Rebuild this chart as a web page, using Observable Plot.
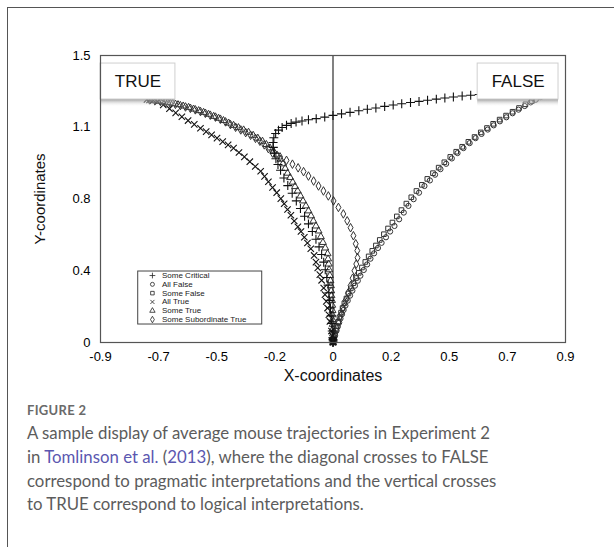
<!DOCTYPE html>
<html><head><meta charset="utf-8">
<script src="https://cdn.jsdelivr.net/npm/d3@7"></script>
<script src="https://cdn.jsdelivr.net/npm/@observablehq/plot@0.6"></script>
<style>
body{margin:0;background:#fff;width:614px;height:547px;overflow:hidden;position:relative;font-family:"Liberation Sans",Arial,sans-serif}
#card{position:absolute;left:7px;top:7px;width:700px;height:700px;border-left:1px solid #555;border-top:1px solid #555}
#chart{position:absolute;left:0;top:0}
.fig{position:absolute;left:27px;top:402px;font-family:Lato,"Open Sans",sans-serif;font-weight:700;font-size:13px;color:#6a6a6a;letter-spacing:0.3px}
.cap{position:absolute;left:27px;top:421px;font-family:Lato,"Open Sans",sans-serif;font-size:16.8px;line-height:23.8px;color:#5c5c5c;white-space:nowrap}
.cap a{color:#5b57b0;text-decoration:none}
</style></head><body>
<div id="card"></div>
<div id="chart"></div>
<div class="fig">FIGURE 2</div>
<div class="cap">A sample display of average mouse trajectories in Experiment 2<br>in <a>Tomlinson et al.</a> (<a>2013</a>), where the diagonal crosses to FALSE<br>correspond to pragmatic interpretations and the vertical crosses<br>to TRUE correspond to logical interpretations.</div>
<script>
// ---- axis ticks ----
const xTicks = [-0.9, -0.675, -0.45, -0.225, 0, 0.225, 0.45, 0.675, 0.9];
const xTickLabels = ["-0.9", "-0.7", "-0.5", "-0.2", "0", "0.2", "0.5", "0.7", "0.9"];
const yTicks = [0, 0.375, 0.75, 1.125, 1.5];
const yTickLabels = ["0", "0.4", "0.8", "1.1", "1.5"];

// ---- legend ----
const seriesNames = ["Some Critical", "All False", "Some False", "All True", "Some True", "Some Subordinate True"];
const seriesSymbols = ["plus", "circle", "square", "times", "triangle", "diamond"];

// ---- target boxes ----
const boxLabels = ["TRUE", "FALSE"];
const boxX1 = [-0.9, 0.56];
const boxX2 = [-0.61, 0.873];
const boxYTop = [1.458, 1.458];
const boxYBottom = [1.27, 1.27];

// ---- trajectories [x, y] ----
const someCritical = [[0,0],[0.001,0.008],[0,0.015],[-0.001,0.025],[-0.003,0.06],[-0.005,0.1],[-0.007,0.14],[-0.01,0.18],[-0.013,0.22],[-0.016,0.26],[-0.019,0.3],[-0.024,0.34],[-0.03,0.38],[-0.036,0.42],[-0.044,0.46],[-0.054,0.5],[-0.066,0.54],[-0.08,0.58],[-0.095,0.62],[-0.11,0.66],[-0.126,0.7],[-0.142,0.74],[-0.158,0.78],[-0.175,0.82],[-0.19,0.86],[-0.203,0.9],[-0.213,0.93],[-0.221,0.96],[-0.227,0.99],[-0.231,1.02],[-0.232,1.045],[-0.229,1.07],[-0.222,1.092],[-0.211,1.11],[-0.197,1.124],[-0.18,1.135],[-0.162,1.145],[-0.143,1.152],[-0.12,1.158],[-0.095,1.164],[-0.065,1.17],[-0.032,1.178],[0,1.187],[0.033,1.195],[0.066,1.203],[0.1,1.211],[0.133,1.219],[0.166,1.226],[0.2,1.234],[0.233,1.241],[0.266,1.248],[0.3,1.254],[0.333,1.26],[0.366,1.266],[0.4,1.272],[0.433,1.278],[0.466,1.283],[0.5,1.288],[0.533,1.292],[0.566,1.296],[0.6,1.3],[0.64,1.303],[0.68,1.306],[0.72,1.308],[0.76,1.31]];

const allFalse = [[0,0],[0.002,0.01],[0.003,0.02],[0.008,0.037],[0.014,0.063],[0.019,0.084],[0.024,0.104],[0.029,0.125],[0.035,0.148],[0.041,0.17],[0.048,0.193],[0.057,0.219],[0.066,0.245],[0.075,0.271],[0.085,0.297],[0.096,0.323],[0.106,0.349],[0.119,0.379],[0.132,0.408],[0.145,0.438],[0.159,0.466],[0.174,0.494],[0.188,0.521],[0.205,0.55],[0.221,0.58],[0.238,0.609],[0.256,0.644],[0.274,0.679],[0.292,0.714],[0.312,0.749],[0.333,0.783],[0.354,0.818],[0.375,0.847],[0.395,0.877],[0.416,0.906],[0.438,0.934],[0.46,0.962],[0.482,0.99],[0.505,1.016],[0.529,1.042],[0.552,1.068],[0.575,1.09],[0.599,1.113],[0.622,1.135],[0.646,1.156],[0.671,1.177],[0.695,1.198],[0.718,1.217],[0.742,1.236],[0.765,1.255],[0.785,1.269],[0.804,1.283],[0.823,1.297]];

const someFalse = [[0,0.005],[0.004,0.02],[0.007,0.04],[0.011,0.062],[0.015,0.085],[0.02,0.108],[0.025,0.132],[0.031,0.156],[0.037,0.18],[0.044,0.205],[0.052,0.23],[0.06,0.256],[0.069,0.283],[0.079,0.31],[0.089,0.337],[0.1,0.364],[0.112,0.392],[0.125,0.421],[0.138,0.45],[0.152,0.479],[0.166,0.507],[0.181,0.536],[0.197,0.566],[0.213,0.596],[0.23,0.627],[0.247,0.659],[0.265,0.692],[0.284,0.726],[0.303,0.759],[0.323,0.792],[0.344,0.824],[0.365,0.855],[0.387,0.885],[0.409,0.914],[0.431,0.942],[0.454,0.97],[0.477,0.997],[0.5,1.023],[0.524,1.049],[0.548,1.074],[0.572,1.098],[0.596,1.121],[0.62,1.143],[0.645,1.165],[0.67,1.186],[0.695,1.206],[0.72,1.226],[0.745,1.245],[0.77,1.262]];

const allTrue = [[0,0],[0.001,0.005],[0,0.012],[-0.003,0.035],[-0.006,0.06],[-0.012,0.11],[-0.016,0.145],[-0.021,0.18],[-0.026,0.215],[-0.031,0.25],[-0.036,0.285],[-0.044,0.325],[-0.051,0.355],[-0.059,0.39],[-0.066,0.42],[-0.073,0.455],[-0.086,0.49],[-0.099,0.52],[-0.111,0.55],[-0.124,0.58],[-0.136,0.605],[-0.15,0.635],[-0.163,0.665],[-0.176,0.695],[-0.189,0.725],[-0.202,0.752],[-0.218,0.783],[-0.234,0.81],[-0.25,0.84],[-0.265,0.868],[-0.28,0.895],[-0.301,0.92],[-0.322,0.945],[-0.343,0.97],[-0.364,0.993],[-0.385,1.016],[-0.406,1.033],[-0.427,1.05],[-0.449,1.068],[-0.47,1.085],[-0.491,1.102],[-0.513,1.12],[-0.537,1.14],[-0.561,1.16],[-0.585,1.18],[-0.609,1.2],[-0.633,1.222],[-0.657,1.242],[-0.679,1.258],[-0.695,1.265],[-0.71,1.268],[-0.72,1.27]];

const someTrue = [[0,0],[0.001,0.01],[0,0.02],[0,0.045],[-0.001,0.07],[-0.001,0.095],[-0.002,0.12],[-0.002,0.145],[-0.002,0.167],[-0.003,0.195],[-0.004,0.22],[-0.006,0.245],[-0.007,0.27],[-0.008,0.297],[-0.01,0.323],[-0.012,0.35],[-0.015,0.38],[-0.017,0.41],[-0.019,0.437],[-0.021,0.464],[-0.03,0.494],[-0.039,0.523],[-0.047,0.553],[-0.056,0.583],[-0.066,0.609],[-0.076,0.635],[-0.085,0.662],[-0.095,0.688],[-0.105,0.714],[-0.116,0.74],[-0.126,0.766],[-0.137,0.792],[-0.147,0.815],[-0.156,0.838],[-0.166,0.862],[-0.176,0.885],[-0.185,0.91],[-0.194,0.934],[-0.203,0.958],[-0.217,0.98],[-0.23,1],[-0.244,1.017],[-0.258,1.035],[-0.273,1.052],[-0.291,1.068],[-0.309,1.083],[-0.327,1.099],[-0.346,1.111],[-0.366,1.123],[-0.385,1.135],[-0.404,1.147],[-0.424,1.16],[-0.443,1.172],[-0.462,1.182],[-0.482,1.193],[-0.501,1.203],[-0.52,1.212],[-0.54,1.22],[-0.559,1.229],[-0.58,1.236],[-0.6,1.243],[-0.621,1.25],[-0.64,1.254],[-0.66,1.257],[-0.679,1.26]];

const someSubordinateTrue = [[0,0],[0.002,0.01],[0.004,0.025],[0.008,0.045],[0.014,0.073],[0.021,0.107],[0.029,0.141],[0.038,0.18],[0.048,0.219],[0.058,0.258],[0.068,0.297],[0.076,0.336],[0.083,0.375],[0.09,0.41],[0.095,0.443],[0.094,0.48],[0.088,0.516],[0.079,0.558],[0.068,0.6],[0.055,0.636],[0.04,0.672],[0.021,0.706],[0.002,0.74],[-0.018,0.766],[-0.037,0.792],[-0.056,0.818],[-0.075,0.844],[-0.095,0.87],[-0.114,0.893],[-0.135,0.913],[-0.157,0.932],[-0.18,0.952],[-0.205,0.97],[-0.234,0.99],[-0.25,1.013],[-0.266,1.033],[-0.283,1.052],[-0.3,1.067],[-0.319,1.083],[-0.338,1.097],[-0.357,1.111],[-0.377,1.125],[-0.397,1.139],[-0.416,1.153],[-0.436,1.167],[-0.455,1.178],[-0.475,1.188],[-0.494,1.198],[-0.513,1.207],[-0.533,1.216],[-0.552,1.224],[-0.571,1.231],[-0.591,1.238],[-0.61,1.245],[-0.63,1.25],[-0.649,1.255],[-0.668,1.26],[-0.69,1.265],[-0.71,1.268]];

const seriesData = [someCritical, allFalse, someFalse, allTrue, someTrue, someSubordinateTrue];

// ---- layout constants (data units) ----
const LEG = {x0: -0.754, x1: -0.274, y0: 0.094, y1: 0.371, symX: -0.699, textX: -0.662, row0: 0.35, step: 0.046};

const xLabel = new Map(xTicks.map((t, i) => [t, xTickLabels[i]]));
const yLabel = new Map(yTicks.map((t, i) => [t, yTickLabels[i]]));
const boxes = boxLabels.map((label, i) => ({label, x1: boxX1[i], x2: boxX2[i], yt: boxYTop[i], yb: boxYBottom[i]}));
const legendRows = seriesNames.map((name, i) => ({name, symbol: seriesSymbols[i], y: LEG.row0 - i * LEG.step}));

const isCross = s => s === "plus" || s === "times";
// draw order: hollow shapes first, crosses on top
const drawOrder = [1, 2, 5, 4, 3, 0];
const dotMarks = drawOrder.map(i => Plot.dot(seriesData[i], {
  x: d => d[0], y: d => d[1], symbol: seriesSymbols[i],
  r: isCross(seriesSymbols[i]) ? 3 : 2.6,
  fill: "none", stroke: isCross(seriesSymbols[i]) ? "#111" : "#333",
  strokeWidth: isCross(seriesSymbols[i]) ? 1.1 : 1
}));

const chart = Plot.plot({
  width: 614, height: 400,
  marginLeft: 100, marginRight: 49, marginTop: 55, marginBottom: 58,
  style: {fontFamily: "'Liberation Sans', Arial, sans-serif", background: "transparent"},
  x: {domain: [-0.9, 0.9]},
  y: {domain: [0, 1.5]},
  marks: [
    ...dotMarks,
    Plot.rect(boxes, {x1: "x1", x2: "x2", y1: d => d.yb - 0.04, y2: "yb", fill: "url(#boxShadow)"}),
    Plot.rect(boxes, {x1: "x1", x2: "x2", y1: "yb", y2: "yt", fill: "white", stroke: "#cfcfcf", strokeWidth: 1}),
    Plot.text(boxes, {x: d => (d.x1 + d.x2) / 2, y: d => (d.yb + d.yt) / 2, text: "label", fontSize: 17, fill: "#111"}),
    Plot.ruleX([0], {stroke: "#1a1a1a", strokeWidth: 1.1}),
    Plot.frame({stroke: "#555", strokeWidth: 1.2}),
    Plot.axisX({ticks: xTicks, tickFormat: d => xLabel.get(d), tickSize: 0, tickPadding: 9, fontSize: 13, label: null, fill: "#000"}),
    Plot.axisY({ticks: yTicks, tickFormat: d => yLabel.get(d), tickSize: 0, tickPadding: 10, fontSize: 13, label: null, fill: "#000"}),
    Plot.text(["X-coordinates"], {frameAnchor: "bottom", dy: 38, fontSize: 16, fill: "#111"}),
    Plot.text(["Y-coordinates"], {frameAnchor: "left", textAnchor: "middle", dx: -60, rotate: -90, fontSize: 15, fill: "#111"}),
    // legend
    Plot.rect([LEG], {x1: "x0", x2: "x1", y1: "y0", y2: "y1", fill: "white", stroke: "#444", strokeWidth: 1}),
    Plot.dot(legendRows, {x: () => LEG.symX, y: "y", symbol: "symbol", r: 2, fill: "none", stroke: "#222", strokeWidth: 0.8}),
    Plot.text(legendRows, {x: () => LEG.textX, y: "y", text: "name", textAnchor: "start", fontSize: 8, fill: "#222"})
  ]
});

const svg = d3.select(chart);
const defs = svg.insert("defs", ":first-child");
const g = defs.append("linearGradient").attr("id", "boxShadow").attr("x1", 0).attr("y1", 0).attr("x2", 0).attr("y2", 1);
g.append("stop").attr("offset", "0%").attr("stop-color", "#888").attr("stop-opacity", 0.85);
g.append("stop").attr("offset", "100%").attr("stop-color", "#fff").attr("stop-opacity", 0);
document.getElementById("chart").appendChild(chart);
</script>
</body></html>
